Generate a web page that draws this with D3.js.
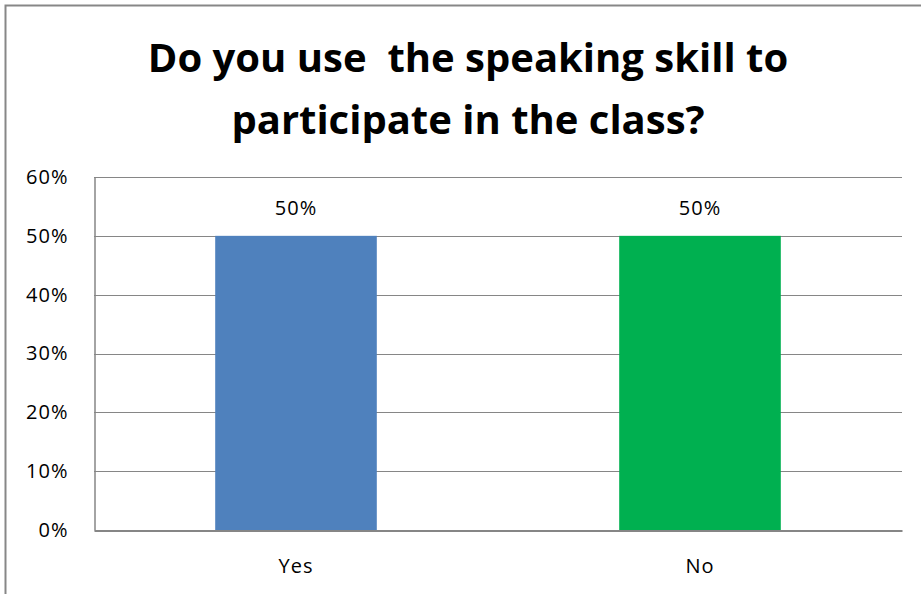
<!DOCTYPE html>
<html>
<head>
<meta charset="utf-8">
<script src="https://cdn.jsdelivr.net/npm/d3@7"></script>
<style>
  body { margin: 0; background: #fff; }
  text { font-family: "Open Sans", "Noto Sans", sans-serif; }
</style>
</head>
<body>
<div class="chart"></div>
<script>
var categories = ["Yes", "No"];
var values = [0.5, 0.5];
var barColors = ["#4F81BD", "#00B050"];
var tickValues = [0, 0.1, 0.2, 0.3, 0.4, 0.5, 0.6];
var titleLines = ["Do you use  the speaking skill to", "participate in the class?"];

var width = 921, height = 594;
var margin = {top: 177, right: 19, bottom: 64, left: 94};

var svg = d3.select(".chart").append("svg")
    .attr("width", width)
    .attr("height", height);

// outer chart border (right/bottom fall outside the picture)
svg.append("rect")
    .attr("x", 5.5).attr("y", 5.5)
    .attr("width", width + 20).attr("height", height + 20)
    .attr("fill", "none")
    .attr("stroke", "#878787")
    .attr("stroke-width", 2);

svg.append("text")
    .attr("x", 468)
    .attr("font-size", 40)
    .attr("font-weight", "bold")
    .attr("text-anchor", "middle")
    .style("white-space", "pre")
    .selectAll("tspan")
    .data(titleLines).enter()
    .append("tspan")
    .attr("x", 468)
    .attr("y", function(d, i) { return 72 + i * 62; })
    .text(function(d) { return d; });

var x = d3.scaleBand()
    .domain(categories)
    .range([margin.left, width - margin.right])
    .paddingInner(0.6)
    .paddingOuter(0.3);

var y = d3.scaleLinear()
    .domain([0, 0.6])
    .range([height - margin.bottom, margin.top]);

var g = svg.append("g");

// gridlines
g.selectAll(".grid")
    .data(tickValues.slice(1)).enter()
    .append("line")
    .attr("x1", margin.left)
    .attr("x2", width - margin.right)
    .attr("y1", function(d) { return Math.round(y(d)) + 0.5; })
    .attr("y2", function(d) { return Math.round(y(d)) + 0.5; })
    .attr("stroke", "#868686")
    .attr("stroke-width", 1);

// bars
g.selectAll(".bar")
    .data(values).enter()
    .append("rect")
    .attr("x", function(d, i) { return x(categories[i]); })
    .attr("width", x.bandwidth())
    .attr("y", function(d) { return y(d); })
    .attr("height", function(d) { return y(0) - y(d); })
    .attr("fill", function(d, i) { return barColors[i]; });

// value labels
g.selectAll(".lbl")
    .data(values).enter()
    .append("text")
    .attr("x", function(d, i) { return x(categories[i]) + x.bandwidth() / 2; })
    .attr("y", function(d) { return y(d) - 21; })
    .attr("text-anchor", "middle")
    .attr("font-size", 20)
    .attr("letter-spacing", 1)
    .text(function(d) { return d3.format(".0%")(d); });

// y axis
var yAxis = d3.axisLeft(y)
    .tickValues(tickValues)
    .tickFormat(d3.format(".0%"))
    .tickSize(0)
    .tickPadding(26);

var ya = svg.append("g")
    .attr("transform", "translate(" + (margin.left + 0.5) + ",0)")
    .call(yAxis);
ya.select(".domain").attr("stroke", "#868686").attr("stroke-width", 1.5);
ya.selectAll("text").attr("font-size", 20).attr("fill", "#000")
    .attr("letter-spacing", 1)
    .style("font-family", "'Open Sans', sans-serif");

// x axis
var xAxis = d3.axisBottom(x).tickSize(0).tickPadding(28);
var xa = svg.append("g")
    .attr("transform", "translate(0," + (y(0) + 0.5) + ")")
    .call(xAxis);
xa.select(".domain").attr("stroke", "#868686").attr("stroke-width", 2);
xa.selectAll("text").attr("font-size", 20).attr("fill", "#000")
    .attr("letter-spacing", 1)
    .style("font-family", "'Open Sans', sans-serif");
</script>
</body>
</html>
